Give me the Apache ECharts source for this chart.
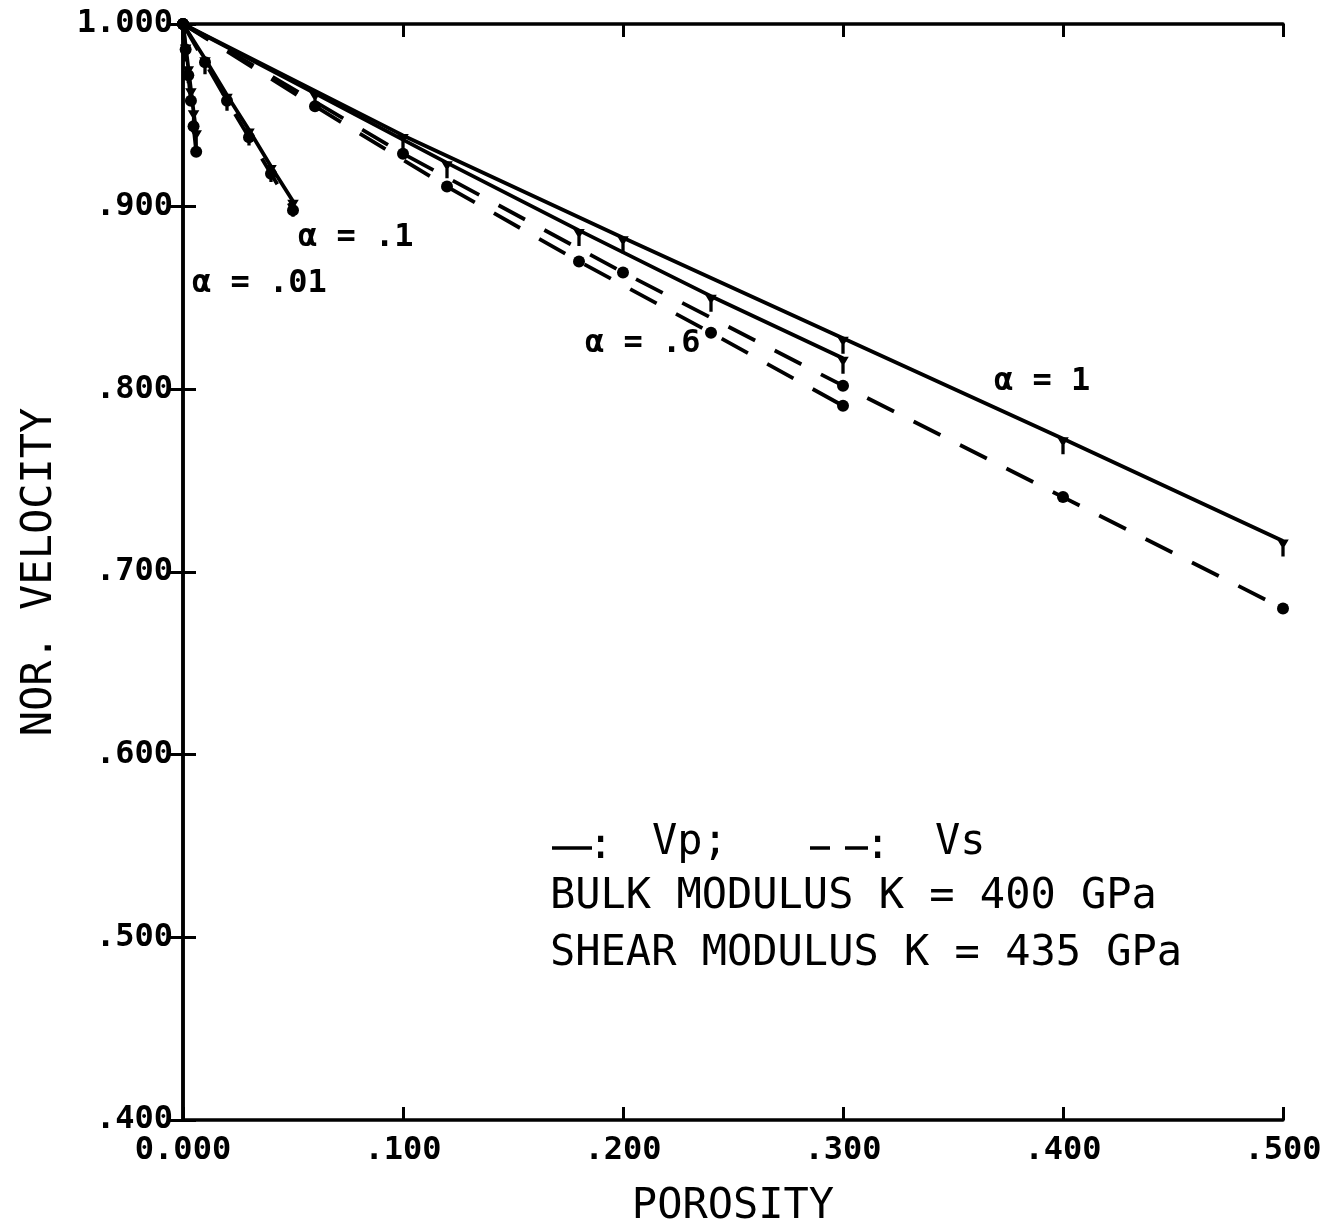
<!DOCTYPE html>
<html>
<head>
<meta charset="utf-8">
<script src="https://cdn.jsdelivr.net/npm/echarts@6/dist/echarts.min.js"></script>
<style>
  html, body { margin: 0; padding: 0; background: #fff; }
  #chart { width: 1334px; height: 1224px; }
</style>
</head>
<body>
<div id="chart"></div>
<script>
// Normalised velocity vs porosity for spheroidal pores of aspect ratio alpha.
// Vp drawn solid, Vs dashed.
const xTicks = [0, 0.1, 0.2, 0.3, 0.4, 0.5];
const yTicks = [0.4, 0.5, 0.6, 0.7, 0.8, 0.9, 1.0];

const phiA001 = [0, 0.0012, 0.0024, 0.0036, 0.0048, 0.006];
const vpA001  = [1, 0.988, 0.976, 0.964, 0.952, 0.941];
const vsA001  = [1, 0.986, 0.972, 0.958, 0.944, 0.930];

const phiA01 = [0, 0.01, 0.02, 0.03, 0.04, 0.05];
const vpA01  = [1, 0.981, 0.961, 0.942, 0.922, 0.903];
const vsA01  = [1, 0.979, 0.958, 0.938, 0.918, 0.898];

const phiA06 = [0, 0.06, 0.12, 0.18, 0.24, 0.30];
const vpA06  = [1, 0.962, 0.924, 0.887, 0.851, 0.817];
const vsA06  = [1, 0.955, 0.911, 0.870, 0.831, 0.791];

const phiA1 = [0, 0.1, 0.2, 0.3, 0.4, 0.5];
const vpA1  = [1, 0.939, 0.883, 0.828, 0.773, 0.717];
const vsA1  = [1, 0.929, 0.864, 0.802, 0.741, 0.680];

const INK = '#000';
const MONO = '"DejaVu Sans Mono", monospace';

const pairs = (xs, ys) => xs.map((x, i) => [x, ys[i]]);

// Vp marker: downward wedge with a short stem hanging under the line
const vpSymbol = 'path://M0,0 L14,0 L9,7 L9,17 L5,17 L5,7 Z';

function vpSeries(name, xs, ys) {
  return {
    name, type: 'line', data: pairs(xs, ys),
    lineStyle: { color: INK, width: 3.8, type: 'solid' },
    symbol: vpSymbol, symbolSize: [14, 17], symbolOffset: [0, 7], symbolKeepAspect: true,
    itemStyle: { color: INK }, showSymbol: true, animation: false, z: 3
  };
}
function vsSeries(name, xs, ys) {
  return {
    name, type: 'line', data: pairs(xs, ys),
    lineStyle: { color: INK, width: 3.8, type: [30, 22] },
    symbol: 'circle', symbolSize: 12,
    itemStyle: { color: INK }, showSymbol: true, animation: false, z: 3
  };
}

const fmtTick = v => {
  const s = v.toFixed(3);
  return s.startsWith('0.') && v !== 0 ? s.slice(1) : s;
};

const chart = echarts.init(document.getElementById('chart'), null, { renderer: 'canvas' });

const tickStyle = { show: true, inside: true, length: 13, lineStyle: { color: INK, width: 3 } };
const lineStyleAxis = { show: true, lineStyle: { color: INK, width: 3.5 } };

chart.setOption({
  backgroundColor: '#fff',
  animation: false,
  grid: { left: 183, right: 51, top: 24, bottom: 104, containLabel: false, outerBoundsMode: 'none' },
  xAxis: [
    {
      type: 'value', min: xTicks[0], max: xTicks[xTicks.length - 1], interval: 0.1,
      position: 'bottom',
      axisLine: lineStyleAxis, axisTick: tickStyle, splitLine: { show: false },
      axisLabel: {
        formatter: v => (v === 0 ? '0.000' : fmtTick(v)),
        color: INK, fontFamily: MONO, fontSize: 32, fontWeight: 'bold', margin: 15,
        showMinLabel: true, showMaxLabel: true
      },
      name: 'POROSITY', nameLocation: 'middle', nameGap: 66,
      nameTextStyle: { color: INK, fontFamily: MONO, fontSize: 42 }
    },
    {
      type: 'value', min: xTicks[0], max: xTicks[xTicks.length - 1], interval: 0.1,
      position: 'top',
      axisLine: lineStyleAxis, axisTick: tickStyle, splitLine: { show: false },
      axisLabel: { show: false }
    }
  ],
  yAxis: [
    {
      type: 'value', min: yTicks[0], max: yTicks[yTicks.length - 1], interval: 0.1,
      position: 'left',
      axisLine: lineStyleAxis, axisTick: tickStyle, splitLine: { show: false },
      axisLabel: {
        formatter: fmtTick,
        color: INK, fontFamily: MONO, fontSize: 32, fontWeight: 'bold', margin: 10,
        showMinLabel: true, showMaxLabel: true
      },
      name: 'NOR. VELOCITY', nameLocation: 'middle', nameGap: 122, nameRotate: 90,
      nameTextStyle: { color: INK, fontFamily: MONO, fontSize: 42 }
    },
    {
      type: 'value', min: yTicks[0], max: yTicks[yTicks.length - 1], interval: 0.1,
      position: 'right',
      axisLine: lineStyleAxis, axisTick: tickStyle, splitLine: { show: false },
      axisLabel: { show: false }
    }
  ],
  series: [
    vpSeries('Vp α=.01', phiA001, vpA001),
    vsSeries('Vs α=.01', phiA001, vsA001),
    vpSeries('Vp α=.1', phiA01, vpA01),
    vsSeries('Vs α=.1', phiA01, vsA01),
    vpSeries('Vp α=.6', phiA06, vpA06),
    vsSeries('Vs α=.6', phiA06, vsA06),
    vpSeries('Vp α=1', phiA1, vpA1),
    vsSeries('Vs α=1', phiA1, vsA1)
  ],
  graphic: [
    // curve labels
    { type: 'text', left: 192, top: 268, style: { text: 'α = .01', font: 'bold 32px ' + MONO, fill: INK } },
    { type: 'text', left: 298, top: 222, style: { text: 'α = .1', font: 'bold 32px ' + MONO, fill: INK } },
    { type: 'text', left: 585, top: 328, style: { text: 'α = .6', font: 'bold 32px ' + MONO, fill: INK } },
    { type: 'text', left: 994, top: 366, style: { text: 'α = 1', font: 'bold 32px ' + MONO, fill: INK } },
    // key
    { type: 'line', shape: { x1: 552, y1: 848, x2: 592, y2: 848 }, style: { stroke: INK, lineWidth: 3.5 } },
    { type: 'text', left: 588, top: 826, style: { text: ':', font: '42px ' + MONO, fill: INK } },
    { type: 'text', left: 652, top: 822, style: { text: 'Vp;', font: '42px ' + MONO, fill: INK } },
    { type: 'line', shape: { x1: 810, y1: 848, x2: 830, y2: 848 }, style: { stroke: INK, lineWidth: 3.5 } },
    { type: 'line', shape: { x1: 845, y1: 848, x2: 868, y2: 848 }, style: { stroke: INK, lineWidth: 3.5 } },
    { type: 'text', left: 865, top: 826, style: { text: ':', font: '42px ' + MONO, fill: INK } },
    { type: 'text', left: 935, top: 822, style: { text: 'Vs', font: '42px ' + MONO, fill: INK } },
    { type: 'text', left: 550, top: 876, style: { text: 'BULK MODULUS K = 400 GPa', font: '42px ' + MONO, fill: INK } },
    { type: 'text', left: 550, top: 933, style: { text: 'SHEAR MODULUS K = 435 GPa', font: '42px ' + MONO, fill: INK } }
  ]
});
</script>
</body>
</html>
